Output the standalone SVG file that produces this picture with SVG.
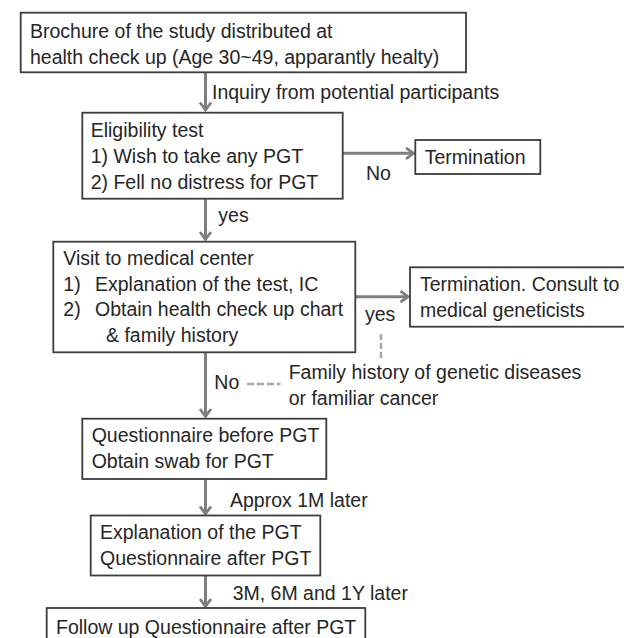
<svg xmlns="http://www.w3.org/2000/svg" width="624" height="638" viewBox="0 0 624 638">
<style>
.box{fill:#ffffff;stroke:#3d3d3d;stroke-width:1.8}
.t{font-family:"Liberation Sans",Arial,sans-serif;font-size:19.5px;fill:#262626}
.arr{stroke:#7f7f7f;stroke-width:3;fill:none;marker-end:url(#ah)}
.dash{stroke:#a6a6a6;stroke-width:2.5;fill:none}
</style>
<defs>
<marker id="ah" markerUnits="userSpaceOnUse" markerWidth="16" markerHeight="16" viewBox="-10 -8 14 16" refX="0" refY="0" orient="auto">
<path d="M-7.5,-5.5 L0,0 L-7.5,5.5" fill="none" stroke="#7f7f7f" stroke-width="2.8"/>
</marker>
</defs>
<rect width="624" height="638" fill="#ffffff"/>

<g id="connectors">
<line class="arr" x1="205.5" y1="72.3" x2="205.5" y2="110"/>
<line class="arr" x1="342.7" y1="153.3" x2="413.5" y2="153.3"/>
<line class="arr" x1="205.5" y1="198.7" x2="205.5" y2="239.5"/>
<line class="arr" x1="355.3" y1="296.7" x2="408" y2="296.7"/>
<line class="arr" x1="205.5" y1="352.3" x2="205.5" y2="416.5"/>
<line class="arr" x1="205.5" y1="479" x2="205.5" y2="514"/>
<line class="arr" x1="205.5" y1="575.7" x2="205.5" y2="606.5"/>
<line class="dash" x1="381" y1="334" x2="381" y2="358.5" stroke-dasharray="6 3"/>
<line class="dash" x1="247" y1="384" x2="280.5" y2="384" stroke-dasharray="7 3"/>
<text class="t" x="212" y="99">Inquiry from potential participants</text>
<text class="t" x="366" y="180">No</text>
<text class="t" x="218.3" y="221.7">yes</text>
<text class="t" x="365" y="320.7">yes</text>
<text class="t" x="214.3" y="389.3">No</text>
<text class="t" x="288.7" y="379">Family history of genetic diseases</text>
<text class="t" x="288.7" y="405">or familiar cancer</text>
<text class="t" x="230" y="507">Approx 1M later</text>
<text class="t" x="232.7" y="600">3M, 6M and 1Y later</text>
</g>

<g id="brochure">
<rect class="box" x="20.7" y="12.7" width="445.3" height="59.6"/>
<text class="t" x="30" y="37.5">Brochure of the study distributed at</text>
<text class="t" x="30" y="63.5">health check up (Age 30~49, apparantly healty)</text>
</g>

<g id="eligibility">
<rect class="box" x="82.3" y="112.7" width="260.4" height="86"/>
<text class="t" x="90.7" y="137">Eligibility test</text>
<text class="t" x="90.7" y="163">1) Wish to take any PGT</text>
<text class="t" x="90.7" y="189">2) Fell no distress for PGT</text>
</g>

<g id="termination1">
<rect class="box" x="415.3" y="140" width="125" height="34"/>
<text class="t" x="424.7" y="164.3">Termination</text>
</g>

<g id="visit">
<rect class="box" x="53.3" y="241.7" width="302" height="110.6"/>
<text class="t" x="63.3" y="265">Visit to medical center</text>
<text class="t" x="63.3" y="290.5">1)</text>
<text class="t" x="95" y="290.5">Explanation of the test, IC</text>
<text class="t" x="63.3" y="316">2)</text>
<text class="t" x="95" y="316">Obtain health check up chart</text>
<text class="t" x="106" y="341.5">&amp; family history</text>
</g>

<g id="termination2">
<rect class="box" x="410" y="267.3" width="230" height="59.4"/>
<text class="t" x="420" y="291">Termination. Consult to</text>
<text class="t" x="420" y="317">medical geneticists</text>
</g>

<g id="questionnaire-before">
<rect class="box" x="82.3" y="418.7" width="244" height="60.3"/>
<text class="t" x="91.7" y="441.7">Questionnaire before PGT</text>
<text class="t" x="91.7" y="468">Obtain swab for PGT</text>
</g>

<g id="explanation">
<rect class="box" x="90.7" y="515.5" width="229.6" height="60"/>
<text class="t" x="100" y="539">Explanation of the PGT</text>
<text class="t" x="100" y="564.5">Questionnaire after PGT</text>
</g>

<g id="follow-up">
<rect class="box" x="46.7" y="608" width="318.6" height="40"/>
<text class="t" x="56" y="633.5">Follow up Questionnaire after PGT</text>
</g>
</svg>
